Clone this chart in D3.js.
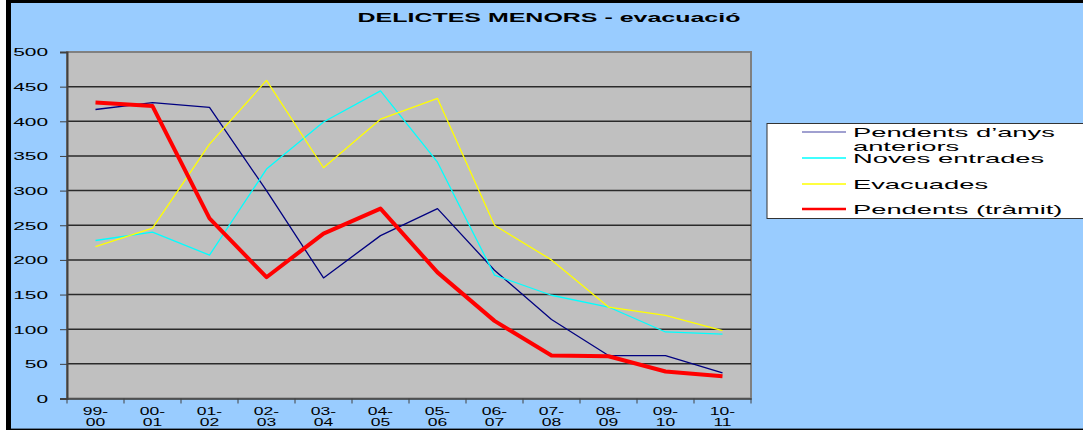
<!DOCTYPE html>
<html>
<head>
<meta charset="utf-8">
<script src="https://cdn.jsdelivr.net/npm/d3@7"></script>
<style>
  body { margin: 0; background: #fff; }
  svg { display: block; }
  text { font-family: Arial, "Liberation Sans", sans-serif; fill: #000; }
</style>
</head>
<body>
<svg id="chart" width="1083" height="430"></svg>
<script>
// data
let periods  = ["99-00","00-01","01-02","02-03","03-04","04-05","05-06","06-07","07-08","08-09","09-10","10-11"];
let anteriors = [417, 427, 420, 300, 174, 235, 274, 185, 114, 62, 62, 37];
let noves     = [228, 240, 207, 331, 399, 444, 341, 178, 149, 132, 96, 93];
let evacuades = [219, 246, 367, 459, 333, 403, 433, 250, 200, 132, 120, 98];
let pendents  = [427, 422, 260, 175, 238, 274, 182, 112, 62, 61, 39, 32];
let yTicks    = [0, 50, 100, 150, 200, 250, 300, 350, 400, 450, 500];

let series = [
  {name: ["Pendents d\u2019anys", "anteriors"], values: anteriors, color: "#000080", width: 1.3},
  {name: ["Noves entrades"],    values: noves,     color: "#00FFFF", width: 1.3},
  {name: ["Evacuades"],         values: evacuades, color: "#FFFF00", width: 1.3},
  {name: ["Pendents (tr\u00e0mit)"], values: pendents, color: "#FF0000", width: 4}
];

let svg = d3.select("#chart");

// stretch a text horizontally, like the old chart renderer did
function stretch(sel, k) {
  sel.each(function () {
    let w = this.getComputedTextLength();
    d3.select(this).attr("textLength", w * k).attr("lengthAdjust", "spacingAndGlyphs");
  });
}

// frame
svg.append("rect").attr("x", 0).attr("y", 0).attr("width", 1083).attr("height", 430).attr("fill", "#fff");
svg.append("rect").attr("x", 6).attr("y", 0).attr("width", 1077).attr("height", 430).attr("fill", "#000");
svg.append("rect").attr("x", 11).attr("y", 3).attr("width", 1072).attr("height", 425).attr("fill", "#99CCFF");
svg.append("line").attr("x1", 11).attr("x2", 1083).attr("y1", 428.5).attr("y2", 428.5)
  .attr("stroke", "#5C7A99").attr("stroke-width", 1);

let plotL = 67, plotR = 751, plotT = 52, plotB = 398.5;

let x = d3.scaleBand().domain(periods).range([plotL, plotR]);
let y = d3.scaleLinear().domain([0, 500]).range([plotB, plotT]);

// plot area
svg.append("rect")
  .attr("x", plotL).attr("y", plotT)
  .attr("width", plotR - plotL).attr("height", plotB - plotT)
  .attr("fill", "#C0C0C0")
  .attr("stroke", "#808080").attr("stroke-width", 2);

// grid
svg.append("g")
  .selectAll("line")
  .data(yTicks.filter(d => d > 0 && d < 500))
  .join("line")
  .attr("x1", plotL).attr("x2", plotR)
  .attr("y1", d => y(d)).attr("y2", d => y(d))
  .attr("stroke", "#2a2a2a").attr("stroke-width", 1.5);

// y axis
let yAxis = svg.append("g")
  .attr("transform", "translate(" + plotL + ",0)")
  .call(d3.axisLeft(y).tickValues(yTicks).tickSize(7).tickPadding(12));
yAxis.select(".domain").attr("stroke", "#404040").attr("stroke-width", 2);
yAxis.selectAll(".tick line").attr("stroke", "#404040");
yAxis.selectAll(".tick text")
  .attr("font-size", 11)
  .attr("font-family", "Arial, 'Liberation Sans', sans-serif")
  .attr("fill", "#000")
  .attr("x", -19)
  .attr("dy", "0.35em")
  .call(stretch, 1.9);

// x axis
let xAxis = svg.append("g")
  .attr("transform", "translate(0," + plotB + ")")
  .call(d3.axisBottom(x).tickSize(0).tickFormat(""));
xAxis.select(".domain").attr("stroke", "#404040").attr("stroke-width", 1.5);

svg.append("g")
  .selectAll("line")
  .data(periods.concat(["end"]))
  .join("line")
  .attr("x1", (d, i) => plotL + i * x.step())
  .attr("x2", (d, i) => plotL + i * x.step())
  .attr("y1", plotB).attr("y2", plotB + 5)
  .attr("stroke", "#404040");

let xl = svg.append("g")
  .selectAll("text")
  .data(periods)
  .join("text")
  .attr("text-anchor", "middle")
  .attr("font-size", 10);
xl.append("tspan")
  .attr("x", d => x(d) + x.bandwidth() / 2)
  .attr("y", 415)
  .text(d => d.split("-")[0] + "-");
xl.append("tspan")
  .attr("x", d => x(d) + x.bandwidth() / 2)
  .attr("y", 426)
  .text(d => d.split("-")[1]);
xl.selectAll("tspan").each(function () {
  let w = this.getComputedTextLength();
  d3.select(this).attr("textLength", w * 1.75).attr("lengthAdjust", "spacingAndGlyphs");
});

// lines
let line = d3.line()
  .x((d, i) => x(periods[i]) + x.bandwidth() / 2)
  .y(d => y(d));

svg.append("g")
  .selectAll("path")
  .data(series)
  .join("path")
  .attr("fill", "none")
  .attr("stroke", d => d.color)
  .attr("stroke-width", d => d.width)
  .attr("stroke-linejoin", "round")
  .attr("d", d => line(d.values));

// title
svg.append("text")
  .attr("x", 549).attr("y", 22)
  .attr("text-anchor", "middle")
  .attr("font-size", 12)
  .attr("font-weight", "bold")
  .text("DELICTES MENORS - evacuació")
  .call(stretch, 2.08);

// legend
let legend = svg.append("g");
legend.append("rect")
  .attr("x", 767).attr("y", 123.5)
  .attr("width", 330).attr("height", 95)
  .attr("fill", "#fff").attr("stroke", "#333").attr("stroke-width", 1);

let rowY = [132, 158, 184, 209];
let items = legend.selectAll("g.item")
  .data(series)
  .join("g")
  .attr("class", "item");
items.append("line")
  .attr("x1", 802).attr("x2", 846)
  .attr("y1", (d, i) => rowY[i]).attr("y2", (d, i) => rowY[i])
  .attr("stroke", (d, i) => i === 0 ? "#8080C0" : d.color)
  .attr("stroke-width", d => d.width > 2 ? 2.5 : 1.3);
items.each(function (d, i) {
  d3.select(this).selectAll("text.lbl")
    .data(d.name)
    .join("text")
    .attr("class", "lbl")
    .attr("x", 853)
    .attr("y", (t, j) => rowY[i] + 5 + j * 14)
    .attr("font-size", 13)
    .text(t => t)
    .call(stretch, 2.1);
});
</script>
</body>
</html>
